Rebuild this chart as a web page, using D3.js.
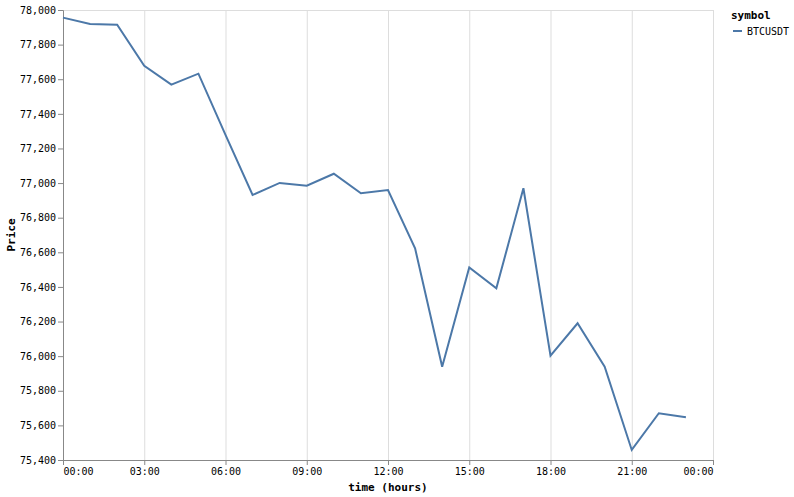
<!DOCTYPE html>
<html>
<head>
<meta charset="utf-8">
<script src="https://cdn.jsdelivr.net/npm/d3@7"></script>
<style>
  body { margin: 0; background: #fff; }
  text { font-family: "DejaVu Sans Mono", monospace; }
</style>
</head>
<body>
<script>
// hourly BTCUSDT prices
const symbols = ["BTCUSDT"];
const hours = [0, 1, 2, 3, 4, 5, 6, 7, 8, 9, 10, 11, 12, 13, 14, 15, 16, 17, 18, 19, 20, 21, 22, 23];
const prices = [77956, 77919, 77915, 77678, 77569, 77632, 77278, 76931, 77001, 76985, 77054, 76941,
                76960, 76623, 75939, 76513, 76392, 76970, 76003, 76190, 75939, 75458, 75670, 75647];
const yTicks = [75400, 75600, 75800, 76000, 76200, 76400, 76600, 76800, 77000, 77200, 77400, 77600, 77800, 78000];
const xTickHours = [0, 3, 6, 9, 12, 15, 18, 21, 24];

const w = 794;
const h = 497;
const margin = { top: 10, right: 81, bottom: 37, left: 63 };
const innerWidth = w - margin.left - margin.right;
const innerHeight = h - margin.top - margin.bottom;

const day = (hr) => new Date(2024, 0, 1, hr);

const data = hours.map((hr, i) => ({ date: day(hr), price: prices[i] }));

const svg = d3.select("body")
    .append("svg")
    .attr("width", w)
    .attr("height", h);

const xScale = d3.scaleTime()
    .domain([day(0), day(24)])
    .range([0, innerWidth]);

const yScale = d3.scaleLinear()
    .domain([75400, 78000])
    .range([innerHeight, 0]);

const g = svg.append("g")
    .attr("transform", `translate(${margin.left},${margin.top})`);

// vertical grid
g.append("g")
    .selectAll("line")
    .data(xTickHours)
    .enter()
    .append("line")
    .attr("x1", d => xScale(day(d)) + 0.5)
    .attr("x2", d => xScale(day(d)) + 0.5)
    .attr("y1", 0)
    .attr("y2", innerHeight)
    .attr("stroke", "#ddd");

// view border
g.append("rect")
    .attr("x", 0.5)
    .attr("y", 0.5)
    .attr("width", innerWidth)
    .attr("height", innerHeight)
    .attr("fill", "none")
    .attr("stroke", "#ddd");

const xAxis = d3.axisBottom(xScale)
    .tickValues(xTickHours.map(day))
    .tickFormat(d3.timeFormat("%H:%M"))
    .tickSize(5)
    .tickPadding(3);

const yAxis = d3.axisLeft(yScale)
    .tickValues(yTicks)
    .tickFormat(d3.format(","))
    .tickSize(5)
    .tickPadding(2);

const xAxisG = g.append("g")
    .attr("transform", `translate(0, ${innerHeight})`)
    .call(xAxis);

const yAxisG = g.append("g")
    .call(yAxis);

[xAxisG, yAxisG].forEach(a => {
    a.select(".domain").attr("stroke", "#888");
    a.selectAll(".tick line").attr("stroke", "#888");
    a.selectAll(".tick text")
        .attr("fill", "#000")
        .style("font-size", "10px")
        .style("font-family", "'DejaVu Sans Mono', monospace");
});

// flush first and last x labels to the plot edges
const xLabels = xAxisG.selectAll(".tick text");
const nX = xLabels.size();
xLabels.attr("text-anchor", (d, i) => i === 0 ? "start" : (i === nX - 1 ? "end" : "middle"));

xAxisG.append("text")
    .attr("x", innerWidth / 2)
    .attr("y", 31)
    .attr("fill", "#000")
    .attr("text-anchor", "middle")
    .style("font-size", "11px")
    .style("font-weight", "bold")
    .text("time (hours)");

yAxisG.append("text")
    .attr("transform", `translate(-48, ${innerHeight / 2}) rotate(-90)`)
    .attr("fill", "#000")
    .attr("text-anchor", "middle")
    .style("font-size", "11px")
    .style("font-weight", "bold")
    .text("Price");

const line = d3.line()
    .x(d => xScale(d.date))
    .y(d => yScale(d.price));

g.append("path")
    .datum(data)
    .attr("d", line)
    .attr("fill", "none")
    .attr("stroke", "#4c78a8")
    .attr("stroke-width", 2);

// legend
const legend = svg.append("g")
    .attr("transform", `translate(731, 10)`);

legend.append("text")
    .attr("x", 0)
    .attr("y", 9)
    .style("font-size", "11px")
    .style("font-weight", "bold")
    .text("symbol");

const items = legend.selectAll(".item")
    .data(symbols)
    .enter()
    .append("g")
    .attr("transform", (d, i) => `translate(0, ${21 + i * 16})`);

items.append("line")
    .attr("x1", 2)
    .attr("x2", 11)
    .attr("y1", 0)
    .attr("y2", 0)
    .attr("stroke", "#4c78a8")
    .attr("stroke-width", 2);

items.append("text")
    .attr("x", 16)
    .attr("y", 3.5)
    .style("font-size", "10px")
    .text(d => d);
</script>
</body>
</html>
